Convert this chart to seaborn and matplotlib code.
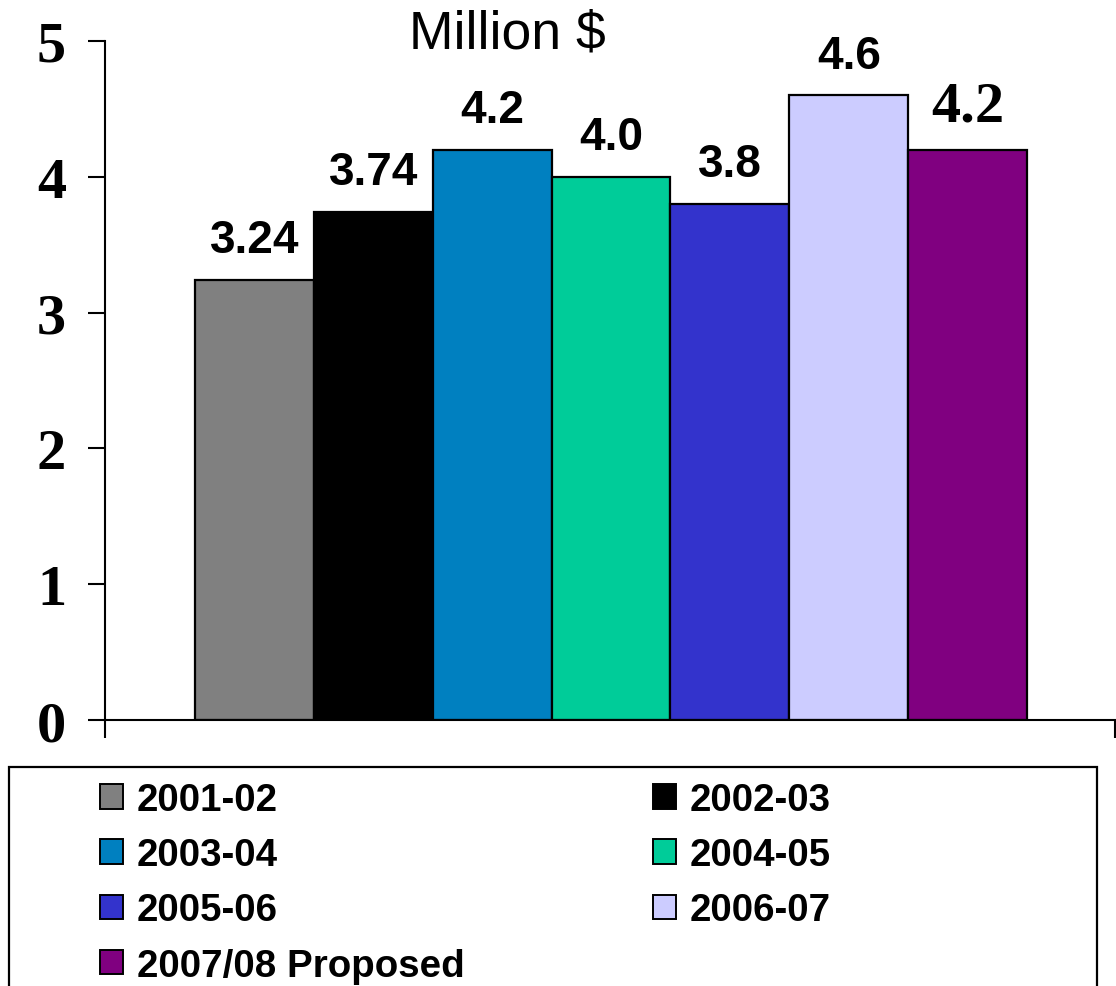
import matplotlib
matplotlib.use("Agg")
import matplotlib.pyplot as plt
import matplotlib.patches as mpatches
import seaborn as sns
import pandas as pd

# Annual amounts (million $) by fiscal year
periods = ["2001-02", "2002-03", "2003-04", "2004-05", "2005-06", "2006-07", "2007/08 Proposed"]
values = [3.24, 3.74, 4.2, 4.0, 3.8, 4.6, 4.2]
value_labels = ["3.24", "3.74", "4.2", "4.0", "3.8", "4.6", "4.2"]
colors = ["#808080", "#000000", "#0080C0", "#00CC99", "#3333CC", "#CCCCFF", "#800080"]
y_ticks = [0, 1, 2, 3, 4, 5]

sns.set_theme(style="white")
plt.rcParams["font.family"] = ["Liberation Sans", "DejaVu Sans"]

W, H = 1116, 987
fig = plt.figure(figsize=(W / 100, H / 100), dpi=100)
ax = fig.add_axes([105 / W, 1 - 721 / H, (1115 - 105) / W, (721 - 42) / H])

df = pd.DataFrame({"period": periods, "value": values})
sns.barplot(data=df, x="period", y="value", hue="period", palette=colors,
            order=periods, hue_order=periods, dodge=False, width=1.0,
            saturation=1, edgecolor="black", linewidth=1.6, legend=False, ax=ax)

ax.set_xlim(-1.256, 7.24)
ax.set_ylim(0, 5)
ax.set_xlabel("")
ax.set_ylabel("")

for side in ["top", "right"]:
    ax.spines[side].set_visible(False)
for side in ["left", "bottom"]:
    ax.spines[side].set_color("black")
    ax.spines[side].set_linewidth(1.5)

# Category axis: ticks only at both ends, no labels
ax.set_xticks([-1.256, 7.24])
ax.set_xticklabels(["", ""])
ax.tick_params(axis="x", direction="out", length=13, width=1.5, color="black", bottom=True)

ax.set_yticks(y_ticks)
ax.set_yticklabels([str(t) for t in y_ticks], family="Liberation Serif",
                   fontweight="bold", fontsize=42, color="black")
ax.tick_params(axis="y", direction="out", length=12, width=1.5, pad=16, color="black", left=True)

# Value labels above each bar
for i, (v, lab) in enumerate(zip(values, value_labels)):
    if i == len(values) - 1:
        ax.annotate(lab, (i, v), xytext=(0, 21), textcoords="offset points",
                    ha="center", va="baseline", fontsize=42, fontweight="bold",
                    family="Liberation Serif", color="black")
    else:
        ax.annotate(lab, (i, v), xytext=(0, 20), textcoords="offset points",
                    ha="center", va="baseline", fontsize=33, fontweight="bold",
                    color="black")

fig.text(507 / W, 1 - 35 / H, "Million $", ha="center", va="center",
         fontsize=38.5, color="black")

# Legend box
frame = mpatches.Rectangle((9 / W, -0.05), (1097 - 9) / W, (1 - 768 / H) + 0.05,
                           transform=fig.transFigure, facecolor="white",
                           edgecolor="black", linewidth=1.6, zorder=0)
fig.patches.append(frame)

# Entries read row by row across two columns
handles = [mpatches.Patch(facecolor=c, edgecolor="black", linewidth=1.4) for c in colors]
order = [0, 2, 4, 6, 1, 3, 5]
leg = fig.legend([handles[k] for k in order], [periods[k] for k in order],
                 loc="upper left", bbox_to_anchor=(100 / W, 1 - 783 / H), ncol=2,
                 frameon=False, labelcolor="black",
                 prop={"family": "Liberation Sans", "weight": "bold", "size": 27.7},
                 handlelength=0.6, handleheight=0.6, handletextpad=0.35,
                 labelspacing=0.5, columnspacing=4.9, borderpad=0, borderaxespad=0)

fig.savefig("out.png", dpi=100)
